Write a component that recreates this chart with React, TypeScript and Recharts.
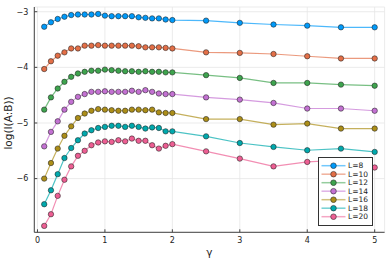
import { LineChart, Line, XAxis, YAxis, CartesianGrid, Legend } from 'recharts'

const gamma = [0.1, 0.2, 0.3, 0.4, 0.5, 0.6, 0.7, 0.8, 0.9, 1.0, 1.1, 1.2, 1.3, 1.4, 1.5, 1.6, 1.7, 1.8, 1.9, 2.0, 2.5, 3.0, 3.5, 4.0, 4.5, 5.0]

const l8 = [-3.27, -3.19, -3.13, -3.09, -3.06, -3.05, -3.05, -3.05, -3.04, -3.07, -3.08, -3.08, -3.08, -3.08, -3.1, -3.11, -3.12, -3.12, -3.14, -3.15, -3.16, -3.2, -3.23, -3.25, -3.28, -3.28]
const l10 = [-4.03, -3.89, -3.79, -3.73, -3.66, -3.66, -3.61, -3.61, -3.6, -3.61, -3.61, -3.61, -3.61, -3.61, -3.62, -3.64, -3.64, -3.64, -3.65, -3.66, -3.73, -3.74, -3.76, -3.8, -3.84, -3.84]
const l12 = [-4.76, -4.54, -4.38, -4.26, -4.17, -4.11, -4.08, -4.06, -4.06, -4.04, -4.05, -4.06, -4.07, -4.07, -4.08, -4.07, -4.08, -4.08, -4.09, -4.09, -4.14, -4.19, -4.28, -4.28, -4.31, -4.33]
const l14 = [-5.42, -5.16, -4.97, -4.76, -4.62, -4.53, -4.48, -4.44, -4.44, -4.43, -4.44, -4.44, -4.44, -4.42, -4.44, -4.41, -4.44, -4.47, -4.48, -4.48, -4.54, -4.58, -4.64, -4.74, -4.74, -4.78]
const l16 = [-6.0, -5.72, -5.46, -5.23, -5.06, -4.91, -4.83, -4.78, -4.75, -4.76, -4.77, -4.78, -4.78, -4.76, -4.76, -4.77, -4.76, -4.81, -4.82, -4.82, -4.93, -4.93, -5.03, -5.01, -5.1, -5.1]
const l18 = [-6.46, -6.21, -5.92, -5.63, -5.45, -5.31, -5.19, -5.13, -5.09, -5.07, -5.05, -5.05, -5.07, -5.05, -5.07, -5.1, -5.08, -5.09, -5.15, -5.15, -5.24, -5.36, -5.43, -5.49, -5.46, -5.52]
const l20 = [-6.85, -6.64, -6.31, -6.02, -5.78, -5.59, -5.5, -5.4, -5.35, -5.33, -5.34, -5.31, -5.33, -5.28, -5.32, -5.32, -5.4, -5.46, -5.41, -5.38, -5.51, -5.64, -5.78, -5.7, -5.67, -5.8]

const seriesNames = ['L=8', 'L=10', 'L=12', 'L=14', 'L=16', 'L=18', 'L=20']
const seriesValues = [l8, l10, l12, l14, l16, l18, l20]
const colors = ['#009AFA', '#E36F47', '#3EA44E', '#C371D2', '#AC8E18', '#00A9AD', '#ED5E93']

const xTicks = [0, 1, 2, 3, 4, 5]
const yTicks = [-6, -5, -4, -3]

const font = '"DejaVu Sans", sans-serif'

const data = gamma.map((g, i) => {
  const row: Record<string, number> = { gamma: g }
  seriesNames.forEach((name, s) => {
    row[name] = seriesValues[s][i]
  })
  return row
})

const fmt = (v: number) => (v < 0 ? '\u2212' + Math.abs(v) : String(v))

function LegendBox() {
  return (
    <svg width={55} height={69} style={{ display: 'block' }}>
      <rect x={0.5} y={0.5} width={54} height={68} fill="#fff" stroke="#333" strokeWidth={1} />
      {seriesNames.map((name, i) => {
        const y = 8.7 + i * 8.5
        return (
          <g key={name}>
            <line x1={3.5} x2={27.5} y1={y} y2={y} stroke={colors[i]} strokeOpacity={0.55} strokeWidth={1.5} />
            <circle cx={15.5} cy={y} r={2.8} fill={colors[i]} stroke="#222" strokeOpacity={0.7} strokeWidth={0.8} />
            <text x={30} y={y} dominantBaseline="central" fontSize={7.5} fontFamily={font} fill="#222">
              {name}
            </text>
          </g>
        )
      })}
    </svg>
  )
}

export default function App() {
  return (
    <div style={{ position: 'absolute', left: 0, top: 0, background: '#fff' }}>
      <LineChart width={392} height={262} data={data} margin={{ top: 7, right: 7.4, bottom: 0, left: 0 }}>
        <CartesianGrid stroke="#e6e6e6" strokeWidth={0.8} />
        <XAxis
          dataKey="gamma"
          type="number"
          domain={[-0.047, 5.147]}
          allowDataOverflow
          ticks={xTicks}
          tickFormatter={fmt}
          height={29.7}
          tickSize={-3}
          tickMargin={8}
          stroke="#444"
          tick={{ fontSize: 8, fontFamily: font, fill: '#222' }}
          label={{ value: 'γ', position: 'insideBottom', offset: 6, style: { fontSize: 10.5, fontFamily: font, fill: '#222' } }}
        />
        <YAxis
          type="number"
          domain={[-6.965, -2.915]}
          allowDataOverflow
          ticks={yTicks}
          tickFormatter={fmt}
          width={34.3}
          tickSize={-3}
          tickMargin={9}
          stroke="#444"
          tick={{ fontSize: 8, fontFamily: font, fill: '#222' }}
          label={{
            content: () => (
              <text
                x={7.7}
                y={123}
                transform="rotate(-90 7.7 123)"
                textAnchor="middle"
                dominantBaseline="central"
                fontSize={10.5}
                fontFamily={font}
                fill="#222"
              >
                log(I(A:B))
              </text>
            ),
          }}
        />
        {seriesNames.map((name, i) => (
          <Line
            key={name}
            dataKey={name}
            type="linear"
            stroke={colors[i]}
            strokeOpacity={0.7}
            strokeWidth={1.2}
            dot={{ r: 2.7, fill: colors[i], fillOpacity: 1, stroke: '#222', strokeOpacity: 0.7, strokeWidth: 0.8 }}
            isAnimationActive={false}
          />
        ))}
        <Legend
          layout="vertical"
          align="center"
          verticalAlign="middle"
          content={() => <LegendBox />}
          wrapperStyle={{ left: 318, top: 157, width: 55, height: 69 }}
        />
      </LineChart>
    </div>
  )
}
